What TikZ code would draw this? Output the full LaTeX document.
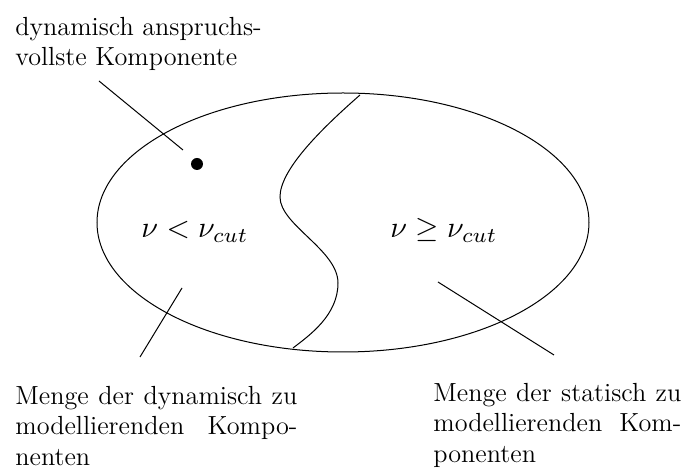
\documentclass[tikz,border=0pt]{standalone}
\usepackage{fontspec}
\usepackage{graphicx}
\begin{document}
\begin{tikzpicture}[x=0.5pt,y=-0.5pt,
  lbl/.style={inner sep=0pt, anchor=north west, align=left, font=\fontsize{13.1}{15.2}\selectfont},
  mathlbl/.style={inner sep=0pt, anchor=base},
  lead/.style={line width=0.5pt},
  thin line/.style={line width=0.5pt}]
\useasboundingbox (0,0) rectangle (682,470);
% ellipse and dividing curve
\draw[thin line] (343,222.5) ellipse [x radius=123pt, y radius=64.75pt];
\coordinate (ctop) at (360,95);
\coordinate (cbot) at (293,348);
\draw[thin line] (ctop) .. controls (320,130) and (280,170) .. (280,197)
   .. controls (280,225) and (338,250) .. (338,283)
   .. controls (338,315) and (310,335) .. (cbot);
% dot
\fill (197,164) circle [radius=3pt];
% math labels
\node[mathlbl] (lo) at (195,238) {\scalebox{1.5}{$\nu < \nu_{cut}$}};
\node[mathlbl] (hi) at (444,238) {\scalebox{1.5}{$\nu \geq \nu_{cut}$}};
% texts
\node[lbl] (ttop) at (15,17) {dynamisch anspruchs-\\vollste Komponente};
\node[lbl] (tleft) at (15,386) {\makebox[141pt][s]{Menge der dynamisch zu}\\\makebox[141pt][s]{modellierenden Kompo-}\\nenten};
\node[lbl] (tright) at (433,383) {\makebox[124pt][s]{Menge der statisch zu}\\\makebox[124pt][s]{modellierenden Kom-}\\ponenten};
% leader lines
\coordinate (a1) at (99,81);  \coordinate (a2) at (183,150);
\coordinate (b1) at (182,288); \coordinate (b2) at (140,357);
\coordinate (c1) at (438,282); \coordinate (c2) at (554,355);
\draw[lead] (a1) -- (a2);
\draw[lead] (b1) -- (b2);
\draw[lead] (c1) -- (c2);
\end{tikzpicture}
\end{document}
